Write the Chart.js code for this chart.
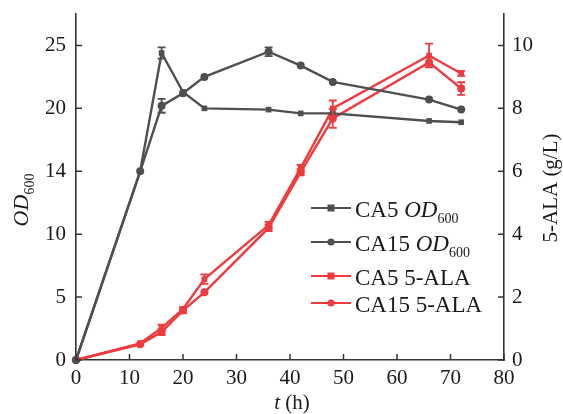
<!DOCTYPE html>
<html>
<head>
<meta charset="utf-8">
<script src="https://cdn.jsdelivr.net/npm/chart.js@4.4.1/dist/chart.umd.min.js"></script>
<style>
  html, body { margin: 0; background: #fff; }
  canvas { display: block; }
</style>
</head>
<body>
<canvas id="growthChart" width="563" height="414"></canvas>
<script>
// sampling times (h)
const hours = [0, 12, 16, 20, 24, 36, 42, 48, 66, 72];

// OD600, left axis
const ca5Od = [0, 15.0, 24.4, 21.3, 20.0, 19.9, 19.6, 19.6, 19.0, 18.9];
const ca15Od = [0, 15.0, 20.2, 21.2, 22.5, 24.5, 23.4, 22.1, 20.7, 19.9];
const ca5OdErr = [0, 0, 0.45, 0, 0, 0, 0, 0, 0, 0];
const ca15OdErr = [0, 0, 0.55, 0, 0, 0.35, 0, 0, 0, 0];

// 5-ALA (g/L), right axis
const ca5Ala = [0, 0.53, 1.02, 1.62, 2.57, 4.29, 6.1, 8.0, 9.68, 9.11];
const ca15Ala = [0, 0.50, 0.89, 1.58, 2.15, 4.2, 5.97, 7.68, 9.46, 8.63];
const ca5AlaErr = [0, 0, 0.1, 0, 0.15, 0.1, 0.1, 0.25, 0.38, 0.08];
const ca15AlaErr = [0, 0, 0.1, 0.1, 0, 0.1, 0.1, 0.3, 0.15, 0.2];

// tick values and their printed labels
const xTicks = [0, 10, 20, 30, 40, 50, 60, 70, 80];
const odTicks = [0, 5, 10, 15, 20, 25];
const odTickLabels = ['0', '5', '10', '14', '20', '25'];
const alaTicks = [0, 2, 4, 6, 8, 10];

const FONT = '"Liberation Serif", "Times New Roman", serif';
const GREY = '#4f4f4f';
const RED = '#ef3a3e';
const AXIS = '#333333';
const TEXT = '#1a1a1a';

const toPoints = ys => hours.map((t, i) => ({ x: t, y: ys[i] }));

// vertical error bars with caps, from dataset.errors
const errorBars = {
  id: 'errorBars',
  afterDatasetsDraw(chart) {
    const ctx = chart.ctx;
    chart.data.datasets.forEach((ds, i) => {
      if (!ds.errors) return;
      const meta = chart.getDatasetMeta(i);
      const yScale = chart.scales[ds.yAxisID];
      ctx.save();
      ctx.strokeStyle = ds.borderColor;
      ctx.lineWidth = 1.8;
      ctx.beginPath();
      meta.data.forEach((pt, j) => {
        const e = ds.errors[j];
        if (!e) return;
        const v = ds.data[j].y;
        const top = yScale.getPixelForValue(v + e);
        const bot = yScale.getPixelForValue(v - e);
        ctx.moveTo(pt.x, top); ctx.lineTo(pt.x, bot);
        ctx.moveTo(pt.x - 4, top); ctx.lineTo(pt.x + 4, top);
        ctx.moveTo(pt.x - 4, bot); ctx.lineTo(pt.x + 4, bot);
      });
      ctx.stroke();
      ctx.restore();
    });
  }
};

// tick marks pointing into the plot
const inwardTicks = {
  id: 'inwardTicks',
  afterDraw(chart) {
    const { ctx, chartArea: a, scales } = chart;
    ctx.save();
    ctx.strokeStyle = AXIS;
    ctx.lineWidth = 1.5;
    ctx.beginPath();
    scales.x.ticks.forEach(t => {
      const px = scales.x.getPixelForValue(t.value);
      ctx.moveTo(px, a.bottom); ctx.lineTo(px, a.bottom - 6);
    });
    scales.yOd.ticks.forEach(t => {
      const py = scales.yOd.getPixelForValue(t.value);
      ctx.moveTo(a.left, py); ctx.lineTo(a.left + 6, py);
    });
    scales.yAla.ticks.forEach(t => {
      const py = scales.yAla.getPixelForValue(t.value);
      ctx.moveTo(a.right, py); ctx.lineTo(a.right - 6, py);
    });
    ctx.stroke();
    ctx.restore();
  }
};

// text made of parts: {text, italic, sub}
function drawRich(ctx, parts, x, y, size, align) {
  const fontFor = p => `${p.italic ? 'italic ' : ''}${p.sub ? Math.round(size * 0.62) : size}px ${FONT}`;
  let w = 0;
  parts.forEach(p => { ctx.font = fontFor(p); w += ctx.measureText(p.text).width; });
  let cx = align === 'center' ? x - w / 2 : x;
  ctx.textAlign = 'left';
  ctx.textBaseline = 'alphabetic';
  parts.forEach(p => {
    ctx.font = fontFor(p);
    ctx.fillText(p.text, cx, p.sub ? y + size * 0.28 : y);
    cx += ctx.measureText(p.text).width;
  });
}

const odLabel = [{ text: 'OD', italic: true }, { text: '600', sub: true }];

// axis titles and the legend
const annotations = {
  id: 'annotations',
  afterDraw(chart) {
    const ctx = chart.ctx;
    ctx.save();
    ctx.fillStyle = TEXT;

    drawRich(ctx, [{ text: 't', italic: true }, { text: ' (h)' }], 292, 409, 21, 'center');

    ctx.save();
    ctx.translate(28, 200);
    ctx.rotate(-Math.PI / 2);
    drawRich(ctx, odLabel, 0, 0, 22, 'center');
    ctx.restore();

    ctx.save();
    ctx.translate(557, 188);
    ctx.rotate(-Math.PI / 2);
    drawRich(ctx, [{ text: '5-ALA (g/L)' }], 0, 0, 21, 'center');
    ctx.restore();

    const rows = [208, 242, 276, 303];
    chart.data.datasets.forEach((ds, i) => {
      const y = rows[i];
      ctx.strokeStyle = ds.borderColor;
      ctx.lineWidth = 2.2;
      ctx.beginPath();
      ctx.moveTo(311, y); ctx.lineTo(351, y);
      ctx.stroke();
      ctx.fillStyle = ds.borderColor;
      if (ds.pointStyle === 'rect') {
        ctx.fillRect(331 - 3.5, y - 3.5, 7, 7);
      } else {
        ctx.beginPath();
        ctx.arc(331, y, 3.6, 0, Math.PI * 2);
        ctx.fill();
      }
      ctx.fillStyle = TEXT;
      drawRich(ctx, ds.legendParts, 355, y + 9, 23, 'left');
    });
    ctx.restore();
  }
};

function series(label, legendParts, ys, errs, color, style, axis) {
  return {
    label,
    legendParts,
    data: toPoints(ys),
    errors: errs,
    yAxisID: axis,
    borderColor: color,
    backgroundColor: color,
    borderWidth: 2.4,
    pointStyle: style,
    pointRadius: 4,
    pointBorderWidth: 0,
    tension: 0,
    clip: false
  };
}

const tickFont = { family: FONT, size: 21 };

// fixed axis band sizes; drop the label overhang padding
const fitHeight = h => s => { s.height = h; s.paddingLeft = 0; s.paddingRight = 0; };
const fitWidth = w => s => { s.width = w; s.paddingTop = 0; s.paddingBottom = 0; };

new Chart(document.getElementById('growthChart'), {
  type: 'line',
  data: {
    datasets: [
      series('CA5 OD600', [{ text: 'CA5 ' }, ...odLabel], ca5Od, ca5OdErr, GREY, 'rect', 'yOd'),
      series('CA15 OD600', [{ text: 'CA15 ' }, ...odLabel], ca15Od, ca15OdErr, GREY, 'circle', 'yOd'),
      series('CA5 5-ALA', [{ text: 'CA5 5-ALA' }], ca5Ala, ca5AlaErr, RED, 'rect', 'yAla'),
      series('CA15 5-ALA', [{ text: 'CA15 5-ALA' }], ca15Ala, ca15AlaErr, RED, 'circle', 'yAla')
    ]
  },
  options: {
    responsive: false,
    animation: false,
    layout: { padding: { top: 14, left: 0, right: 0, bottom: 0 } },
    plugins: { legend: { display: false }, tooltip: { enabled: false } },
    scales: {
      x: {
        type: 'linear',
        min: 0, max: 80,
        afterBuildTicks: s => { s.ticks = xTicks.map(v => ({ value: v })); },
        afterFit: fitHeight(54),
        grid: { display: false, drawTicks: false },
        border: { display: true, color: AXIS, width: 1.6 },
        ticks: { color: TEXT, font: tickFont, padding: 6, maxRotation: 0 }
      },
      yOd: {
        type: 'linear',
        position: 'left',
        min: 0, max: 27.5,
        afterBuildTicks: s => { s.ticks = odTicks.map(v => ({ value: v })); },
        afterFit: fitWidth(76),
        grid: { display: false, drawTicks: false },
        border: { display: true, color: AXIS, width: 1.6 },
        ticks: {
          color: TEXT, font: tickFont, padding: 10,
          callback: v => odTickLabels[odTicks.indexOf(v)]
        }
      },
      yAla: {
        type: 'linear',
        position: 'right',
        min: 0, max: 11,
        afterBuildTicks: s => { s.ticks = alaTicks.map(v => ({ value: v })); },
        afterFit: fitWidth(59),
        grid: { display: false, drawTicks: false },
        border: { display: true, color: AXIS, width: 1.6 },
        ticks: { color: TEXT, font: tickFont, padding: 8 }
      }
    }
  },
  plugins: [errorBars, inwardTicks, annotations]
});
</script>
</body>
</html>
